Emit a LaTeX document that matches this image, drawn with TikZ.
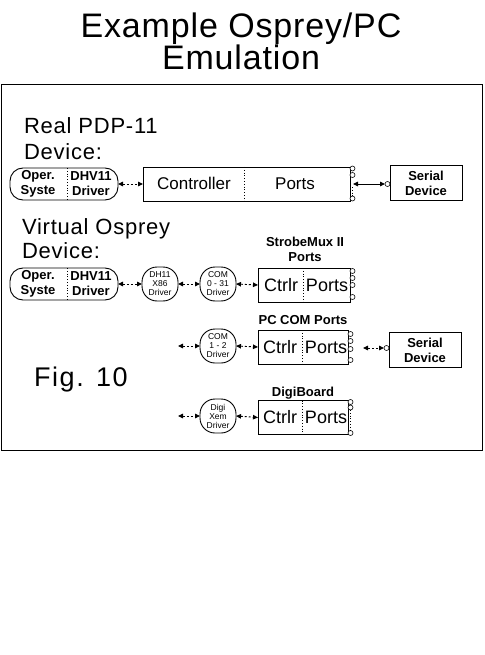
\documentclass[tikz,border=0pt]{standalone}
\usepackage{fontspec}
\setmainfont{Liberation Sans}
\newfontfamily\titlefont{Liberation Sans}[LetterSpace=2.5]
\newfontfamily\widefont{Liberation Sans}[LetterSpace=3.5]
\newfontfamily\figfont{Liberation Sans}[LetterSpace=6]
\usetikzlibrary{arrows.meta}
\begin{document}
\begin{tikzpicture}[x=1pt,y=-1pt,
  every node/.style={inner sep=0pt, outer sep=0pt},
  osbox/.style={draw, line width=0.9pt, rounded corners=13pt, minimum width=108pt, minimum height=32pt},
  drvbox/.style={draw, line width=0.9pt, rounded corners=15pt, minimum width=36pt, minimum height=34pt, align=center, font=\fontsize{8.5}{9}\selectfont},
  cbox/.style={draw, line width=0.9pt, minimum height=34pt},
  serbox/.style={draw, line width=0.9pt, minimum width=72pt, minimum height=35pt, align=center, font=\bfseries\fontsize{13}{15}\selectfont},
  lbl/.style={align=center, font=\bfseries\fontsize{13}{15}\selectfont},
  big/.style={font=\fontsize{18}{18}\selectfont},
  sect/.style={anchor=base west, font=\widefont\fontsize{22}{22}\selectfont},
  dbl/.style={{Triangle[length=5pt,width=4.5pt]}-{Triangle[length=5pt,width=4.5pt]}, dash pattern=on 2pt off 2pt, line width=0.9pt},
  sdbl/.style={{Triangle[length=5pt,width=4.5pt]}-{Triangle[length=5pt,width=4.5pt]}, line width=0.9pt},
  port/.style={draw, circle, fill=white, line width=0.6pt, minimum size=5pt},
  div/.style={dotted, line width=0.8pt}
]
\useasboundingbox (0,0) rectangle (484,655);

% titles
\node[anchor=base, font=\titlefont\fontsize{34}{34}\selectfont] (t1) at (241,38) {Example Osprey/PC};
\node[anchor=base, font=\titlefont\fontsize{34}{34}\selectfont] (t2) at (241,70) {Emulation};

% frame
\draw[line width=1pt] (1.5,85) rectangle (482.5,450);

% section labels
\node[sect] (r1) at (24,134) {Real PDP-11};
\node[sect] (r2) at (24,160) {Device:};
\node[sect] (v1) at (22,234) {Virtual Osprey};
\node[sect] (v2) at (22,258) {Device:};
\node[anchor=base west, font=\figfont\fontsize{27}{27}\selectfont] (fig) at (34,386) {Fig. 10};

% ---------- real row ----------
\node[osbox] (os1) at (64,184) {};
\draw[div] ([xshift=3pt]os1.north) -- ([xshift=3pt]os1.south);
\node[lbl] (os1a) at (38,184) {Oper.\\Syste};
\node[lbl] (os1b) at (91,184) {DHV11\\Driver};

\node[cbox, minimum width=207pt] (ctl) at (246.5,184) {};
\draw[div] ([xshift=-2.5pt]ctl.north) -- ([xshift=-2.5pt]ctl.south);
\node[font=\fontsize{17}{17}\selectfont] (ctlt) at (194,183) {Controller};
\node[font=\fontsize{17}{17}\selectfont] (ctlp) at (295,184) {Ports};
\draw[dbl] (os1.east) -- (ctl.west);

\node[port] (c1a) at (352.5,168.5) {};
\node[port] (c1b) at (352.5,175) {};
\node[port] (c1d) at (352.5,198.5) {};
\coordinate (c1c) at (353,184);
\draw[div] (352.5,187) -- (c1d.north);

\node[serbox] (ser1) at (426,183) {Serial\\Device};
\node[port] (sc1) at (387.5,184) {};
\draw[sdbl] (c1c) -- (sc1.west);

% ---------- virtual row ----------
\node[osbox] (os2) at (64,284) {};
\draw[div] ([xshift=3pt]os2.north) -- ([xshift=3pt]os2.south);
\node[lbl] (os2a) at (38,284) {Oper.\\Syste};
\node[lbl] (os2b) at (91,284) {DHV11\\Driver};

\node[drvbox] (d1) at (160,284) {DH11\\X86\\Driver};
\node[drvbox] (d2) at (218,284) {COM\\0 - 31\\Driver};

\node[lbl] (smt) at (305,249) {StrobeMux II\\Ports};
\node[cbox, minimum width=92pt] (sm) at (304,285) {};
\draw[div] ([xshift=-1pt]sm.north) -- ([xshift=-1pt]sm.south);
\node[big] (smc) at (281,285) {Ctrlr};
\node[big] (smp) at (327,285) {Ports};
\foreach \yy/\nm in {271/a,278/b,285/c,297/d} \node[port] (smport\nm) at (352.5,\yy) {};

\draw[dbl] (os2.east) -- (d1.west);
\draw[dbl] (d1.east) -- (d2.west);
\draw[dbl] (d2.east) -- (sm.west);

% ---------- PC COM row ----------
\coordinate (l3) at (178,346);
\node[drvbox] (d3) at (218,346) {COM\\1 - 2\\Driver};
\node[lbl] (pct) at (303,320) {PC COM Ports};
\node[cbox, minimum width=90pt] (pcbox) at (303,347) {};
\draw[div] ([xshift=-1pt]pcbox.north) -- ([xshift=-1pt]pcbox.south);
\node[big] (pcc) at (280,347) {Ctrlr};
\node[big] (pcp) at (326,347) {Ports};
\foreach \yy/\nm in {334/a,341/b,349/c,360/d} \node[port] (pcport\nm) at (350.5,\yy) {};
\draw[dbl] (l3) -- (d3.west);
\draw[dbl] (d3.east) -- (pcbox.west);

\coordinate (pc0) at (363,348);
\node[port] (sc2) at (386.5,348) {};
\node[serbox] (ser2) at (425,350) {Serial\\Device};
\draw[dbl] (pc0) -- (sc2.west);

% ---------- DigiBoard row ----------
\coordinate (l4) at (178,416);
\node[drvbox] (d4) at (218,416) {Digi\\Xem\\Driver};
\node[lbl] (dgt) at (303,393) {DigiBoard};
\node[cbox, minimum width=90pt] (dg) at (303,417.5) {};
\draw[div] ([xshift=-1pt]dg.north) -- ([xshift=-1pt]dg.south);
\node[big] (dgc) at (280,417.5) {Ctrlr};
\node[big] (dgp) at (326,417.5) {Ports};
\node[port] (ga) at (350.5,402) {};
\node[port] (gb) at (350.5,407.5) {};
\node[port] (gd) at (350.5,433) {};
\draw[div] (gb.south) -- (gd.north);
\draw[dbl] (l4) -- (d4.west);
\draw[dbl] (d4.east) -- (dg.west);
\end{tikzpicture}
\end{document}
